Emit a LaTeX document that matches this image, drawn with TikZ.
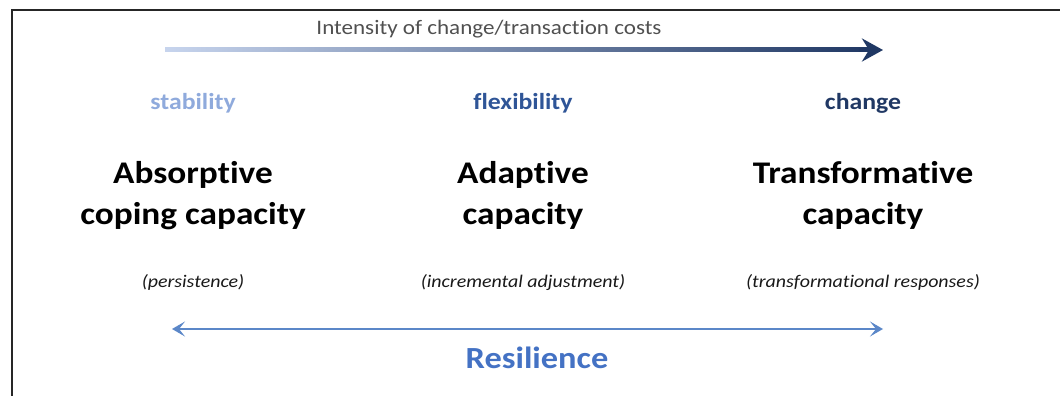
\documentclass[tikz,border=0pt]{standalone}
\usepackage{fontspec}
\setmainfont{Carlito}[FakeStretch=1.12, Ligatures=NoCommon]
\usetikzlibrary{arrows.meta,positioning}
\definecolor{paleblue}{RGB}{143,170,220}
\definecolor{midblue}{RGB}{47,85,151}
\definecolor{deepnavy}{RGB}{32,56,100}
\definecolor{lineblue}{RGB}{91,135,200}
\definecolor{resblue}{RGB}{68,114,196}
\definecolor{titlegray}{RGB}{80,80,80}

\begin{document}
\begin{tikzpicture}[x=1pt, y=-1pt, inner sep=0pt,
      tier/.style={font=\bfseries\fontsize{23}{27}\selectfont, anchor=base},
      heading/.style={font=\bfseries\fontsize{31.5}{41}\selectfont, align=center, anchor=base},
      note/.style={font=\itshape\fontsize{17.8}{21}\selectfont, text=black!90, anchor=base}]
    \useasboundingbox (0,0) rectangle (1060,396);
    % frame line, runs off at right and bottom
    \draw[line width=2pt, black!85] (12,400) -- (12,10) -- (1070,10);

    % cost arrow on top
    \node[font=\fontsize{20.6}{24}\selectfont, text=titlegray, anchor=base] (cost) at (489,35)
      {Intensity of change/transaction costs};
    \coordinate (costL) at (165,50);
    \coordinate (costR) at (883,50);
    \shade[left color=paleblue!50, right color=deepnavy] ([yshift=-2pt]costL) rectangle ([xshift=-14pt, yshift=2pt]costR);
    \draw[deepnavy, line width=4pt, -{Stealth[length=21pt, width=23pt, inset=7pt]}]
      ([xshift=-24pt]costR) -- (costR);

    % the three capacities
    \node[tier, text=paleblue] (stab) at (193,110) {stability};
    \node[tier, text=midblue] (flex) at (523,110) {flexibility};
    \node[tier, text=deepnavy] (chg) at (863,110) {change};

    \node[heading] (absorb) at (193,224) {Absorptive\\coping capacity};
    \node[heading] (adapt) at (523,224) {Adaptive\\capacity};
    \node[heading] (transf) at (863,224) {Transformative\\capacity};

    \node[note] (persist) at (193,287) {(persistence)};
    \node[note] (increm) at (523,287) {(incremental adjustment)};
    \node[note] (respon) at (863,287) {(transformational responses)};

    % resilience span
    \coordinate (resL) at (172,329);
    \coordinate (resR) at (883,329);
    \draw[lineblue, line width=2.5pt, {Stealth[length=13pt, width=15pt, inset=6pt]}-{Stealth[length=13pt, width=15pt, inset=6pt]}]
      (resL) -- (resR);
    \node[font=\bfseries\fontsize{30.7}{36}\selectfont, text=resblue, anchor=base] (res) at (537,368) {Resilience};
\end{tikzpicture}
\end{document}
